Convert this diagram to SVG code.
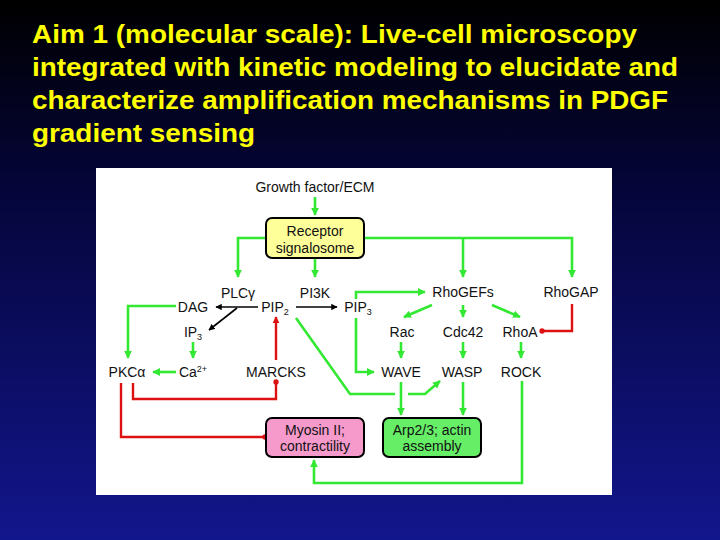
<svg xmlns="http://www.w3.org/2000/svg" width="720" height="540" viewBox="0 0 720 540">
<defs>
<linearGradient id="bg" x1="0" y1="0" x2="0" y2="1">
<stop offset="0" stop-color="#000000"/>
<stop offset="0.35" stop-color="#05053a"/>
<stop offset="1" stop-color="#12168c"/>
</linearGradient>
<marker id="ag" viewBox="0 0 10 10" refX="9" refY="5" markerWidth="3" markerHeight="3" orient="auto" markerUnits="strokeWidth"><path d="M0,0 L10,5 L0,10 z" fill="#33e833"/></marker>
<marker id="ar" viewBox="0 0 10 10" refX="9" refY="5" markerWidth="3" markerHeight="3" orient="auto" markerUnits="strokeWidth"><path d="M0,0 L10,5 L0,10 z" fill="#dd1111"/></marker>
<marker id="ak" viewBox="0 0 10 10" refX="9" refY="5" markerWidth="4" markerHeight="4" orient="auto" markerUnits="strokeWidth"><path d="M0,0 L10,5 L0,10 z" fill="#000"/></marker>
<marker id="dr" viewBox="0 0 10 10" refX="5" refY="5" markerWidth="2.2" markerHeight="2.2" orient="auto" markerUnits="strokeWidth"><circle cx="5" cy="5" r="5" fill="#dd1111"/></marker>
</defs>
<style>
.t{font-family:"Liberation Sans",Arial,sans-serif;font-size:14px;fill:#111;text-anchor:middle}
.title{font-family:"Liberation Sans",Arial,sans-serif;font-size:26px;font-weight:bold;fill:#ffff00}
.g{fill:none;stroke:#33e833;stroke-width:2.6;marker-end:url(#ag)}
.gl{fill:none;stroke:#33e833;stroke-width:2.6}
.r{fill:none;stroke:#dd1111;stroke-width:2.4}
.k{fill:none;stroke:#000;stroke-width:1.6;marker-end:url(#ak)}
.box{stroke:#000;stroke-width:2}
</style>
<rect width="720" height="540" fill="url(#bg)"/>
<g id="title">
<text class="title" x="32" y="43" textLength="605" lengthAdjust="spacingAndGlyphs">Aim 1 (molecular scale): Live-cell microscopy</text>
<text class="title" x="32" y="76" textLength="646" lengthAdjust="spacingAndGlyphs">integrated with kinetic modeling to elucidate and</text>
<text class="title" x="32" y="109" textLength="636" lengthAdjust="spacingAndGlyphs">characterize amplification mechanisms in PDGF</text>
<text class="title" x="32" y="142" textLength="223" lengthAdjust="spacingAndGlyphs">gradient sensing</text>
</g>
<rect x="96" y="168" width="516" height="327" fill="#ffffff"/>
<g id="connectors">
<path class="g" d="M315,197 V215"/>
<path class="g" d="M266,238 H238 V277"/>
<path class="g" d="M315,258 V277"/>
<path class="g" d="M364,238 H572 V277"/>
<path class="g" d="M463,238 V277"/>
<path class="k" d="M258,307 H216"/>
<path class="k" d="M296,307 H337"/>
<path class="k" d="M237,308 L209,330"/>
<path class="g" d="M176,306 H128 V358"/>
<path class="g" d="M193,342 V358"/>
<path class="g" d="M176,372 H153"/>
<path class="r" d="M276,360 V317" style="marker-end:url(#ar)"/>
<path class="r" d="M133,383 V399 H276 V382" style="marker-end:url(#dr)"/>
<path class="r" d="M121,383 V437 H265" style="marker-end:url(#dr)"/>
<path class="g" d="M356,299 V292 H425"/>
<path class="g" d="M432,305 L404,317"/>
<path class="g" d="M463,305 V317"/>
<path class="g" d="M492,305 L520,317"/>
<path class="r" d="M572,304 V331 H542" style="marker-end:url(#dr)"/>
<path class="g" d="M401,342 V358"/>
<path class="g" d="M463,342 V358"/>
<path class="g" d="M521,342 V358"/>
<path class="g" d="M356,318 V372 H374"/>
<path class="gl" d="M296,318 L350,394 H395"/>
<path class="g" d="M408,394 H425 L440,381"/>
<path class="g" d="M401,382 V415"/>
<path class="g" d="M463,382 V415"/>
<path class="g" d="M522,381 V483 H314 V460"/>
</g>
<g id="growth"><text class="t" x="315" y="192">Growth factor/ECM</text></g>
<g id="receptor">
<rect class="box" x="266" y="218" width="98" height="40" rx="6" fill="#ffff99"/>
<text class="t" x="315" y="236">Receptor</text>
<text class="t" x="315" y="253">signalosome</text>
</g>
<g id="plcg"><text class="t" x="238" y="298">PLCγ</text></g>
<g id="pi3k"><text class="t" x="315" y="298">PI3K</text></g>
<g id="rhogefs"><text class="t" x="463" y="297">RhoGEFs</text></g>
<g id="rhogap"><text class="t" x="571" y="297">RhoGAP</text></g>
<g id="dag"><text class="t" x="193" y="312">DAG</text></g>
<g id="pip2"><text class="t" x="275" y="312">PIP<tspan font-size="9" dy="3">2</tspan></text></g>
<g id="pip3"><text class="t" x="358" y="312">PIP<tspan font-size="9" dy="3">3</tspan></text></g>
<g id="ip3"><text class="t" x="193" y="337">IP<tspan font-size="9" dy="3">3</tspan></text></g>
<g id="rac"><text class="t" x="402" y="337">Rac</text></g>
<g id="cdc42"><text class="t" x="463" y="337">Cdc42</text></g>
<g id="rhoa"><text class="t" x="520" y="337">RhoA</text></g>
<g id="pkca"><text class="t" x="127" y="377">PKCα</text></g>
<g id="ca"><text class="t" x="193" y="377">Ca<tspan font-size="9" dy="-5">2+</tspan></text></g>
<g id="marcks"><text class="t" x="276" y="377">MARCKS</text></g>
<g id="wave"><text class="t" x="401" y="377">WAVE</text></g>
<g id="wasp"><text class="t" x="462" y="377">WASP</text></g>
<g id="rock"><text class="t" x="521" y="377">ROCK</text></g>
<g id="myosin">
<rect class="box" x="266" y="418" width="98" height="39" rx="6" fill="#f59acb"/>
<text class="t" x="315" y="435">Myosin II;</text>
<text class="t" x="315" y="451">contractility</text>
</g>
<g id="arp">
<rect class="box" x="383" y="418" width="98" height="39" rx="6" fill="#66ee66"/>
<text class="t" x="432" y="435">Arp2/3; actin</text>
<text class="t" x="432" y="451">assembly</text>
</g>
</svg>
